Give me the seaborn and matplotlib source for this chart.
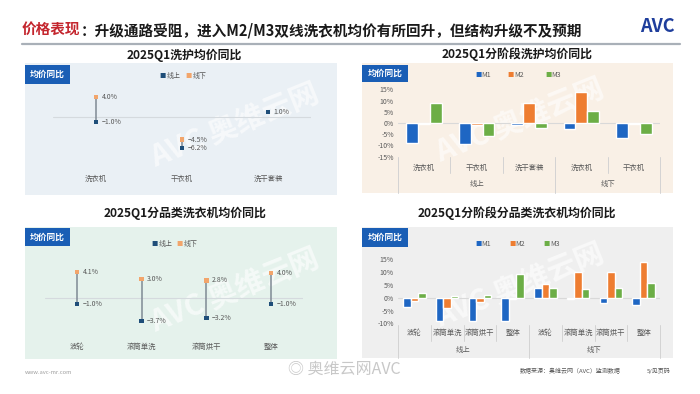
import numpy as np
import pandas as pd
import matplotlib
matplotlib.use("Agg")
import matplotlib.pyplot as plt
import seaborn as sns
from matplotlib.patches import Rectangle
from matplotlib.transforms import blended_transform_factory as btf

# ---------------- data ----------------
tl_cats = ["洗衣机", "干衣机", "洗干套装"]
tl_online = [-1.0, -6.2, 1.0]
tl_offline = [4.0, -4.5, np.nan]

tr_groups = ["线上", "线下"]
tr_group_sizes = [3, 2]
tr_cats = ["洗衣机", "干衣机", "洗干套装", "洗衣机", "干衣机"]
tr_m1 = [-9.0, -9.2, -0.9, -2.8, -6.7]
tr_m2 = [-0.3, -0.8, 8.8, 13.8, -0.5]
tr_m3 = [8.8, -5.8, -2.2, 5.3, -4.8]

bl_cats = ["波轮", "滚筒单洗", "滚筒烘干", "整体"]
bl_online = [-1.0, -3.7, -3.2, -1.0]
bl_offline = [4.1, 3.0, 2.8, 4.0]

br_groups = ["线上", "线下"]
br_group_sizes = [4, 4]
br_cats = ["波轮", "滚筒单洗", "滚筒烘干", "整体", "波轮", "滚筒单洗", "滚筒烘干", "整体"]
br_m1 = [-3.6, -9.1, -9.1, -9.1, 3.9, -0.7, -1.9, -2.7]
br_m2 = [-1.2, -4.0, -1.6, -0.5, 5.5, 10.0, 10.0, 14.1]
br_m3 = [1.7, 0.8, 1.2, 9.1, 3.7, 3.3, 3.6, 5.7]

stages = ["M1", "M2", "M3"]
channels = ["线上", "线下"]

# ---------------- style ----------------
sns.set_theme(style="white")
plt.rcParams['font.family'] = ['Noto Sans CJK SC', 'DejaVu Sans']
plt.rcParams['axes.unicode_minus'] = False

C_ON = "#1f4e79"
C_OFF = "#f2a56b"
C_M = ["#1e66c3", "#ee7d31", "#6cae46"]
C_BOX = "#1a5eb5"
TXT = "#595959"
SEP = "#d3d3d3"

W, H = 700, 394
fig = plt.figure(figsize=(7, 3.94), dpi=100)
fig.patch.set_facecolor("white")


def fx(px):
    return px / W


def fy(py):
    return 1 - py / H


def rect(x0, y0, x1, y1):
    return [fx(x0), fy(y1), (x1 - x0) / W, (y1 - y0) / H]


def panel(x0, y0, x1, y1, color):
    fig.add_artist(Rectangle((fx(x0), fy(y1)), (x1 - x0) / W, (y1 - y0) / H,
                             transform=fig.transFigure, facecolor=color,
                             edgecolor="none", zorder=-3))


def label_box(x0, y0, x1, y1):
    fig.add_artist(Rectangle((fx(x0), fy(y1)), (x1 - x0) / W, (y1 - y0) / H,
                             transform=fig.transFigure, facecolor=C_BOX,
                             edgecolor="none", zorder=1))
    fig.text(fx((x0 + x1) / 2), fy((y0 + y1) / 2), "均价同比", color="white",
             fontsize=6.3, weight="bold", ha="center", va="center", zorder=2)


def watermark(cx, cy):
    fig.text(fx(cx), fy(cy), "AVC 奥维云网", color="#ffffff", alpha=0.6,
             fontsize=21, weight="bold", style="italic", rotation=22,
             ha="center", va="center", zorder=-2)


def legend_items(items, py):
    for px, color, lab in items:
        fig.text(fx(px), fy(py), "■", color=color, fontsize=4.5,
                 ha="center", va="center")
        fig.text(fx(px + 3.5), fy(py), lab, color=TXT, fontsize=5,
                 ha="left", va="center")


# ---------------- header ----------------
r = fig.canvas.get_renderer()
t1 = fig.text(fx(22), fy(30), "价格表现", color="#c4262e", fontsize=10.5,
              weight="bold", ha="left", va="center")
bb = t1.get_window_extent(r)
fig.text(bb.x1 / W, fy(30),
         "：升级通路受阻，进入M2/M3双线洗衣机均价有所回升，但结构升级不及预期",
         color="#1a1a1a", fontsize=10.5, weight="bold", ha="left", va="center")
fig.add_artist(plt.Line2D([fx(22), fx(680)], [fy(44), fy(44)],
                          transform=fig.transFigure, color="#a9b0b8", lw=1.6))
fig.text(fx(657), fy(26), "AVC", color="#1f3e9c", fontsize=13, weight="bold",
         ha="center", va="center")

# ---------------- panels ----------------
panel(25, 63, 337, 195, "#eaf0f5")
panel(362, 63, 673, 193, "#f9f0e6")
panel(25, 227, 337, 359, "#e5f2ec")
panel(362, 227, 673, 358, "#efefef")

# watermarks (behind the data)
watermark(235, 125)
watermark(520, 120)
watermark(235, 290)
watermark(520, 285)

for cx, cy, s in [(184, 55, "2025Q1洗护均价同比"), (517, 54, "2025Q1分阶段洗护均价同比"),
                  (185, 213, "2025Q1分品类洗衣机均价同比"), (517, 213, "2025Q1分阶段分品类洗衣机均价同比")]:
    fig.text(fx(cx), fy(cy), s, fontsize=8.6, weight="bold", color="#1a1a1a",
             ha="center", va="center")

label_box(25, 65, 70, 84)
label_box(362, 65, 408, 82)
label_box(25, 228, 70, 246)
label_box(362, 228, 408, 247)


# ---------------- dumbbell charts ----------------
def dumbbell(ax_rect, cats, online, offline, ylim, label_py):
    ax = fig.add_axes(ax_rect)
    ax.set_facecolor("none")
    df = pd.DataFrame({
        "cat": cats * 2,
        "channel": [channels[0]] * len(cats) + [channels[1]] * len(cats),
        "value": list(online) + list(offline),
    }).dropna()
    pos = {c: i for i, c in enumerate(cats)}
    ax.axhline(0, color="#d5dade", lw=0.8, zorder=1)
    for i, (a, b) in enumerate(zip(online, offline)):
        if not (np.isnan(a) or np.isnan(b)):
            ax.vlines(i, min(a, b), max(a, b), color="#7f8a94", lw=1.1, zorder=2)
    df["x"] = df["cat"].map(pos)
    sns.scatterplot(data=df, x="x", y="value", hue="channel", hue_order=channels,
                    palette=[C_ON, C_OFF], marker="s", s=10, linewidth=0,
                    legend=False, ax=ax, zorder=3)
    for _, row in df.iterrows():
        v = row["value"]
        ax.annotate(f"{v:.1f}%".replace("-", "−"), (row["x"], v), xytext=(4, 0),
                    textcoords="offset points", va="center", ha="left",
                    fontsize=5, color=TXT)
    ax.set_xlim(-0.5, len(cats) - 0.5)
    ax.set_ylim(*ylim)
    ax.set_xticks([])
    ax.set_yticks([])
    ax.set_xlabel("")
    ax.set_ylabel("")
    for s in ax.spines.values():
        s.set_visible(False)
    tr = btf(ax.transData, fig.transFigure)
    for i, c in enumerate(cats):
        ax.text(i, fy(label_py), c, transform=tr, ha="center", va="center",
                fontsize=5.3, color=TXT)
    return ax


dumbbell(rect(53, 85, 311, 165), tl_cats, tl_online, tl_offline, (-9.6, 6.4), 179)
legend_items([(163, C_ON, "线上"), (189, C_OFF, "线下")], 76)

dumbbell(rect(44.7, 262, 303.3, 330), bl_cats, bl_online, bl_offline, (-5.08, 5.71), 347)
legend_items([(155, C_ON, "线上"), (180, C_OFF, "线下")], 244)


# ---------------- bar charts ----------------
def bars(ax_rect, groups, sizes, cats, m1, m2, m3, ylim, yticks,
         cat_py, grp_py, sep_top, sep_inner, sep_outer):
    ax = fig.add_axes(ax_rect)
    ax.set_facecolor("none")
    keys = [f"{i}" for i in range(len(cats))]
    df = pd.DataFrame({
        "key": keys * 3,
        "stage": sum([[s] * len(cats) for s in stages], []),
        "value": list(m1) + list(m2) + list(m3),
    })
    ax.axhline(0, color="#d9d9d9", lw=0.8, zorder=0)
    sns.barplot(data=df, x="key", y="value", hue="stage", order=keys,
                hue_order=stages, palette=C_M, width=0.68, saturation=1,
                legend=False, ax=ax, zorder=2)
    ax.set_xlim(-0.5, len(cats) - 0.5)
    ax.set_ylim(*ylim)
    ax.set_yticks(yticks)
    ax.set_yticklabels([f"{t}%" for t in yticks], fontsize=5, color=TXT)
    ax.tick_params(axis="y", length=0, pad=3)
    ax.set_xticks([])
    ax.set_xlabel("")
    ax.set_ylabel("")
    for s in ax.spines.values():
        s.set_visible(False)
    tr = btf(ax.transData, fig.transFigure)
    for i, c in enumerate(cats):
        ax.text(i, fy(cat_py), c, transform=tr, ha="center", va="center",
                fontsize=5.3, color=TXT)
    start = 0
    bounds = [-0.5]
    for g, n in zip(groups, sizes):
        ax.text(start + (n - 1) / 2, fy(grp_py), g, transform=tr, ha="center",
                va="center", fontsize=5.3, color=TXT)
        start += n
        bounds.append(start - 0.5)
    for b in np.arange(-0.5, len(cats), 1.0):
        bottom = sep_outer if any(abs(b - x) < 1e-6 for x in bounds) else sep_inner
        ax.plot([b, b], [fy(sep_top), fy(bottom)], transform=tr, color=SEP,
                lw=0.7, clip_on=False)
    return ax


bars(rect(398, 89.3, 660, 156.7), tr_groups, tr_group_sizes, tr_cats,
     tr_m1, tr_m2, tr_m3, (-15, 15), [15, 10, 5, 0, -5, -10, -15],
     168, 184, 157, 173, 193)
legend_items([(478, C_M[0], "M1"), (511, C_M[1], "M2"), (548, C_M[2], "M3")], 75)

bars(rect(398, 259.3, 660, 323.3), br_groups, br_group_sizes, br_cats,
     br_m1, br_m2, br_m3, (-10, 15), [15, 10, 5, 0, -5, -10],
     333, 350, 325, 341, 358)
legend_items([(478, C_M[0], "M1"), (512, C_M[1], "M2"), (547, C_M[2], "M3")], 244)

# ---------------- footer ----------------
fig.text(fx(25), fy(373), "www.avc-mr.com", fontsize=4.2, color="#a0a0a0",
         ha="left", va="center")
fig.text(fx(288), fy(369), "◎ 奥维云网AVC", fontsize=11.5, color="#c8c8c8",
         ha="left", va="center")
fig.text(fx(520), fy(371), "数据来源：奥维云网（AVC）监测数据", fontsize=4.3,
         color="#555555", ha="left", va="center")
fig.text(fx(647), fy(371), "5/见页码", fontsize=4.3, color="#555555",
         ha="left", va="center")

fig.savefig("out.png", dpi=100, facecolor="white")
